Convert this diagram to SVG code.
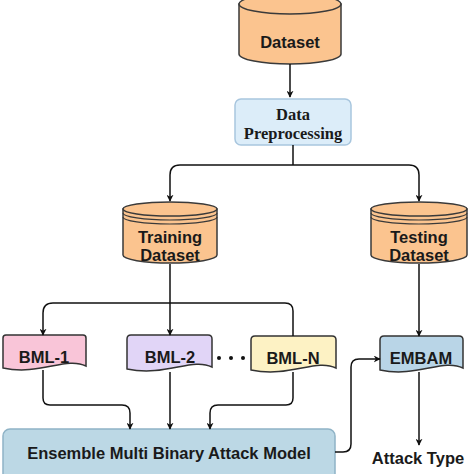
<svg xmlns="http://www.w3.org/2000/svg" width="474" height="474" viewBox="0 0 474 474">
<defs>
<marker id="ah" viewBox="0 0 10 10" refX="9" refY="5" markerWidth="7" markerHeight="7" orient="auto" markerUnits="userSpaceOnUse">
<path d="M0,0 L10,5 L0,10 L3,5 Z" fill="#111"/>
</marker>
<style>
.cyl{fill:#fbc48f;stroke:#3a3a3a;stroke-width:1.5}
.ln{fill:none;stroke:#3a3a3a;stroke-width:1.2}
.t{font-family:"Liberation Sans",Arial,sans-serif;font-weight:bold;font-size:16.5px;fill:#1a1a1a;text-anchor:middle}
.ts{font-family:"Liberation Serif","Times New Roman",serif;font-weight:bold;font-size:16.5px;fill:#1a1a1a;text-anchor:middle}
.doc{stroke:#333;stroke-width:1.5}
.c{fill:none;stroke:#111;stroke-width:1.5}
</style>
</defs>
<rect width="474" height="474" fill="#fff"/>

<g id="dataset">
<path class="cyl" d="M239,4 V54 A51,10 0 0 0 341,54 V4 Z"/>
<ellipse class="cyl" cx="290" cy="4" rx="51" ry="10"/>
<text class="t" x="290" y="48">Dataset</text>
</g>

<g id="preprocessing">
<rect x="235" y="99" width="116" height="46" rx="6" fill="#dcedf9" stroke="#a8c6de" stroke-width="1.5"/>
<text class="ts" x="293" y="120">Data</text>
<text class="ts" x="293" y="139">Preprocessing</text>
</g>

<g id="training">
<path class="cyl" d="M123,209 V255 A47,8 0 0 0 217,255 V209 Z"/>
<path class="ln" d="M123,213 A47,7 0 0 0 217,213 M123,217 A47,7 0 0 0 217,217"/>
<ellipse class="cyl" cx="170" cy="209" rx="47" ry="7"/>
<text class="t" x="170" y="243">Training</text>
<text class="t" x="170" y="261">Dataset</text>
</g>

<g id="testing">
<path class="cyl" d="M371,209 V255 A48,8 0 0 0 467,255 V209 Z"/>
<path class="ln" d="M371,213 A48,7 0 0 0 467,213 M371,217 A48,7 0 0 0 467,217"/>
<ellipse class="cyl" cx="419" cy="209" rx="48" ry="7"/>
<text class="t" x="419" y="243">Testing</text>
<text class="t" x="419" y="261">Dataset</text>
</g>

<g id="bml1">
<path class="doc" fill="#f9c5d8" d="M3,338 Q3,335 6,335 H83 Q86,335 86,338 V366 C66,356 40,376 3,368 Z"/>
<text class="t" x="44" y="363">BML-1</text>
</g>

<g id="bml2">
<path class="doc" fill="#e1d5f7" d="M127,339 Q127,335 131,335 H208 Q212,335 212,339 V367 C192,357 166,377 127,369 Z"/>
<text class="t" x="170" y="363">BML-2</text>
</g>

<g id="dots" fill="#111">
<circle cx="219" cy="358" r="2"/>
<circle cx="231" cy="358" r="2"/>
<circle cx="243" cy="358" r="2"/>
</g>

<g id="bmln">
<path class="doc" fill="#fdf2c4" d="M251,340 Q251,336 255,336 H332 Q336,336 336,340 V368 C316,358 290,378 251,370 Z"/>
<text class="t" x="293" y="364">BML-N</text>
</g>

<g id="embam">
<path class="doc" fill="#b9d5e7" stroke="#2d4a5e" d="M380,340 Q380,336 384,336 H459 Q463,336 463,340 V368 C443,358 417,378 380,370 Z"/>
<text class="t" x="421" y="364">EMBAM</text>
</g>

<g id="ensemble">
<rect x="3" y="429" width="332" height="52" rx="7" fill="#bcd8e5" stroke="#8fb3c6" stroke-width="1.5"/>
<text class="t" x="169" y="459">Ensemble Multi Binary Attack Model</text>
</g>

<g id="attacktype">
<text class="t" x="418" y="464">Attack Type</text>
</g>

<g id="connectors">
<path class="c" d="M290,64 V97" marker-end="url(#ah)"/>
<path class="c" d="M293,145 V165 M293,165 H180 Q170,165 170,175 V201" marker-end="url(#ah)"/>
<path class="c" d="M293,165 H409 Q419,165 419,175 V201" marker-end="url(#ah)"/>
<path class="c" d="M170,264 V303 M170,303 H53 Q43,303 43,313 V335" marker-end="url(#ah)"/>
<path class="c" d="M170,303 V335" marker-end="url(#ah)"/>
<path class="c" d="M170,303 H285 Q293,303 293,311 V336"/>
<path class="c" d="M419,264 V336" marker-end="url(#ah)"/>
<path class="c" d="M43,370 V398 Q43,405 50,405 H122 Q130,405 130,413 V429" marker-end="url(#ah)"/>
<path class="c" d="M170,372 V429" marker-end="url(#ah)"/>
<path class="c" d="M293,372 V398 Q293,405 286,405 H218 Q210,405 210,413 V429" marker-end="url(#ah)"/>
<path class="c" d="M335,452 H343 Q351,452 351,444 V367 Q351,359 359,359 H380" marker-end="url(#ah)"/>
<path class="c" d="M419,372 V445" marker-end="url(#ah)"/>
</g>
</svg>
